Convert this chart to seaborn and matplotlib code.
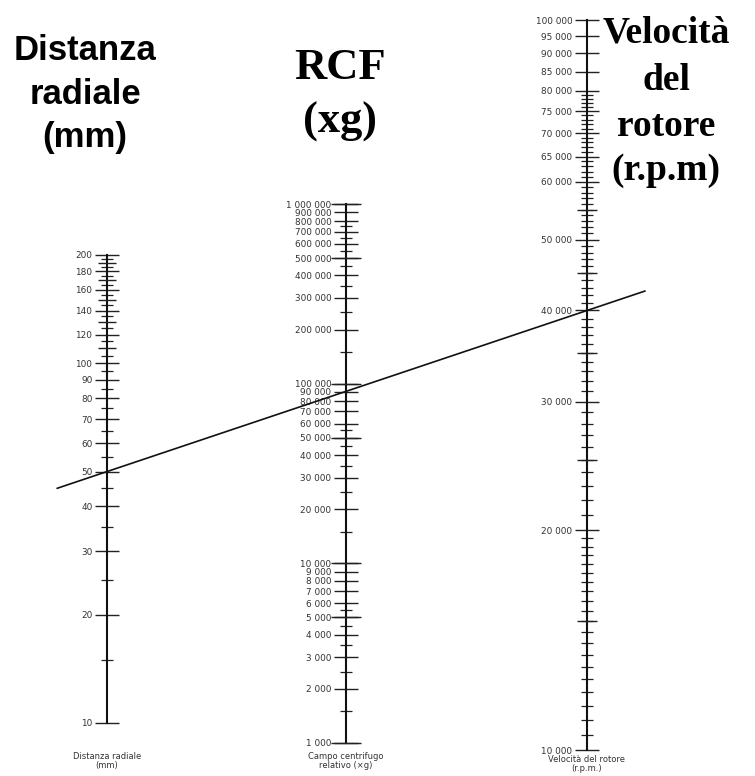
import numpy as np
import seaborn as sns
import matplotlib
matplotlib.use('Agg')
import matplotlib.pyplot as plt
from matplotlib.ticker import FixedLocator, FixedFormatter, NullFormatter, NullLocator

# scale values (nomogramma RCF)
radius_major = [10, 20, 30, 40, 50, 60, 70, 80, 90, 100, 120, 140, 160, 180, 200]
radius_minor = [15, 25, 35, 45, 55, 65, 75, 85, 95, 105, 115, 125, 135,
                145, 155, 165, 175, 185, 195]
radius_mid = [110, 130, 150, 170, 190]

rcf_major = [1000, 2000, 3000, 4000, 5000, 6000, 7000, 8000, 9000,
             10000, 20000, 30000, 40000, 50000, 60000, 70000, 80000, 90000,
             100000, 200000, 300000, 400000, 500000, 600000, 700000, 800000, 900000,
             1000000]
rcf_minor = [1500, 2500, 3500, 4500, 5500, 15000, 25000, 35000, 45000, 55000,
             150000, 250000, 350000, 450000, 550000, 650000, 750000]
rcf_long = [1000, 5000, 10000, 50000, 100000, 500000, 1000000]

rpm_major = [10000, 20000, 30000, 40000, 50000, 60000, 65000, 70000, 75000,
             80000, 85000, 90000, 95000, 100000]
rpm_minor = [v for v in list(range(10500, 20000, 500)) + list(range(21000, 80000, 1000))
             if v not in rpm_major]
rpm_mid = [15000, 25000, 35000, 45000, 55000]

# reading shown on the chart
reading_radius = 50
reading_rpm = 40000

W, H = 755, 776

sns.set_theme(style="white")
plt.rcParams['font.family'] = ['DejaVu Sans']

fig = plt.figure(figsize=(W / 100, H / 100), dpi=100)


def fmt(v):
    return f"{v:,}".replace(",", " ")


def scale_axes(x, y_top, y_bot, vmin, vmax):
    ax = fig.add_axes([x / W, 1 - y_bot / H, 0.002, (y_bot - y_top) / H])
    ax.set_yscale('log')
    ax.set_ylim(vmin, vmax)
    ax.set_xlim(0, 1)
    ax.set_xticks([])
    for s in ['top', 'right', 'bottom']:
        ax.spines[s].set_visible(False)
    ax.patch.set_alpha(0)
    return ax


def make_scale(x, y_top, y_bot, vmin, vmax, major, minor, extra, extra_len):
    ax = scale_axes(x, y_top, y_bot, vmin, vmax)
    ax.spines['left'].set_linewidth(1.5)
    ax.spines['left'].set_color('#111111')
    ax.yaxis.set_major_locator(FixedLocator(major))
    ax.yaxis.set_major_formatter(FixedFormatter([fmt(v) for v in major]))
    ax.yaxis.set_minor_locator(FixedLocator(minor))
    ax.yaxis.set_minor_formatter(NullFormatter())
    ax.tick_params(axis='y', which='major', left=True, direction='inout', length=17,
                   width=1.0, color='#222222', labelsize=6.4, labelcolor='#333333', pad=2)
    ax.tick_params(axis='y', which='minor', left=True, direction='inout', length=9,
                   width=0.9, color='#222222')

    # second tier of ticks (longer or medium) on a twin axes
    ax2 = scale_axes(x, y_top, y_bot, vmin, vmax)
    ax2.spines['left'].set_visible(False)
    ax2.yaxis.set_major_locator(FixedLocator(extra))
    ax2.yaxis.set_major_formatter(NullFormatter())
    ax2.yaxis.set_minor_locator(NullLocator())
    ax2.tick_params(axis='y', which='major', left=True, direction='inout',
                    length=extra_len, width=1.0, color='#222222')
    return ax


ax_r = make_scale(107, 255, 723, 10, 200, radius_major, radius_minor, radius_mid, 13)
ax_g = make_scale(346, 204, 743, 1000, 1000000, rcf_major, rcf_minor, rcf_long, 21)
ax_n = make_scale(587, 20, 750, 10000, 100000, rpm_major, rpm_minor, rpm_mid, 14)

# overlay in pixel coordinates for the reading line and titles
ax0 = fig.add_axes([0, 0, 1, 1], zorder=5)
ax0.set_xlim(0, W)
ax0.set_ylim(H, 0)
ax0.axis('off')
ax0.patch.set_alpha(0)

p_a = ax0.transData.inverted().transform(ax_r.transData.transform((0, reading_radius)))
p_b = ax0.transData.inverted().transform(ax_n.transData.transform((0, reading_rpm)))
t = np.array([-0.104, 1.121])
line_x = p_a[0] + t * (p_b[0] - p_a[0])
line_y = p_a[1] + t * (p_b[1] - p_a[1])
sns.lineplot(x=line_x, y=line_y, ax=ax0, color='#111111', linewidth=1.2, sort=False)

# titles
sans_bold = dict(family='Liberation Sans', fontweight='bold', fontsize=25,
                 ha='center', va='center', color='black')
ax0.text(85, 50, "Distanza", **sans_bold)
ax0.text(85, 95, "radiale", **sans_bold)
ax0.text(85, 137, "(mm)", **sans_bold)

serif_bold = dict(family='Liberation Serif', fontweight='bold', ha='center',
                  va='center', color='black')
ax0.text(340, 68, "RCF", fontsize=32, **serif_bold)
ax0.text(340, 122, "(xg)", fontsize=32, **serif_bold)

ax0.text(666, 33, "Velocità", fontsize=27, **serif_bold)
ax0.text(666, 80, "del", fontsize=27, **serif_bold)
ax0.text(666, 126, "rotore", fontsize=27, **serif_bold)
ax0.text(666, 170, "(r.p.m)", fontsize=27, **serif_bold)

# small captions under the scales
cap = dict(fontsize=6, ha='center', va='top', color='#333333', linespacing=0.95)
ax0.text(107, 752, "Distanza radiale\n(mm)", **cap)
ax0.text(346, 752, "Campo centrifugo\nrelativo (×g)", **cap)
ax0.text(587, 755, "Velocità del rotore\n(r.p.m.)", **cap)

fig.savefig("out.png", dpi=100, facecolor='white')
